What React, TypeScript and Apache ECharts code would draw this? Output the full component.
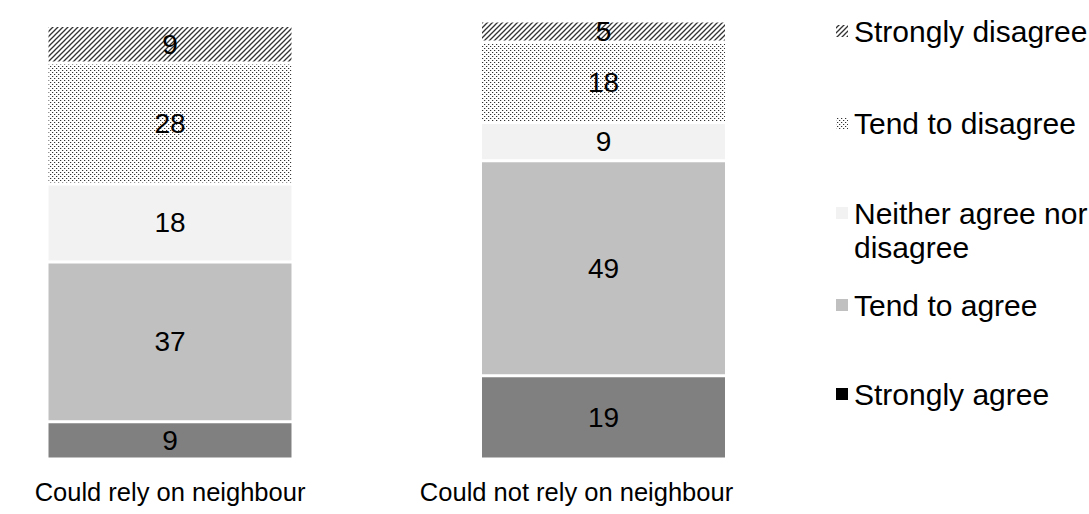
import React, { useEffect, useRef } from "react";
import * as echarts from "echarts";

const categories = ["Could rely on neighbour", "Could not rely on neighbour"];
const stronglyAgree = [8.5, 19];
const tendToAgree = [36.5, 49.1];
const neitherAgreeNorDisagree = [17.8, 8.7];
const tendToDisagree = [27.6, 18.4];
const stronglyDisagree = [8.6, 4.8];

const seriesNames = [
  "Strongly agree",
  "Tend to agree",
  "Neither agree nor disagree",
  "Tend to disagree",
  "Strongly disagree",
];
const legendLabels = [
  "Strongly agree",
  "Tend to agree",
  "\nNeither agree nor\ndisagree",
  "Tend to disagree",
  "Strongly disagree",
];

function makeHatch(): HTMLCanvasElement {
  const c = document.createElement("canvas");
  c.width = 5;
  c.height = 5;
  const ctx = c.getContext("2d")!;
  ctx.fillStyle = "#ffffff";
  ctx.fillRect(0, 0, 5, 5);
  ctx.strokeStyle = "#333333";
  ctx.lineWidth = 1.3;
  ctx.beginPath();
  ctx.moveTo(-1, 6);
  ctx.lineTo(6, -1);
  ctx.moveTo(-1, 1);
  ctx.lineTo(1, -1);
  ctx.moveTo(4, 6);
  ctx.lineTo(6, 4);
  ctx.stroke();
  return c;
}

function makeDots(): HTMLCanvasElement {
  const c = document.createElement("canvas");
  c.width = 4;
  c.height = 4;
  const ctx = c.getContext("2d")!;
  ctx.fillStyle = "#ffffff";
  ctx.fillRect(0, 0, 4, 4);
  ctx.fillStyle = "#333333";
  ctx.fillRect(0, 0, 1, 1);
  ctx.fillRect(2, 2, 1, 1);
  ctx.fillStyle = "#d0d0d0";
  ctx.fillRect(1, 0, 1, 1);
  ctx.fillRect(3, 2, 1, 1);
  return c;
}

export default function App() {
  const ref = useRef<HTMLDivElement>(null);

  useEffect(() => {
    if (!ref.current) return;
    const chart = echarts.init(ref.current, undefined, { renderer: "svg" });
    const hatch = { image: makeHatch(), repeat: "repeat" };
    const dots = { image: makeDots(), repeat: "repeat" };
    const colors: any[] = ["#808080", "#c0c0c0", "#f2f2f2", dots, hatch];
    const datasets = [
      stronglyAgree,
      tendToAgree,
      neitherAgreeNorDisagree,
      tendToDisagree,
      stronglyDisagree,
    ];
    const font = "'Liberation Sans', Arial, Helvetica, sans-serif";
    const legendTops = [377, 288, 162, 106, 14];

    const legends = seriesNames.map((name, i) => ({
      show: true,
      left: 834,
      top: legendTops[i],
      padding: 0,
      itemWidth: 14,
      itemHeight: 14,
      icon: "rect",
      selectedMode: false,
      formatter: () => legendLabels[i],
      textStyle: {
        fontFamily: font,
        fontSize: 30,
        color: "#000",
        lineHeight: 34,
      },
      data: [
        i === 0
          ? { name, itemStyle: { color: "#000000" } }
          : { name },
      ],
    }));

    chart.setOption({
      animation: false,
      backgroundColor: "#ffffff",
      legend: legends,
      grid: {
        left: 170,
        right: 1089 - 603.5,
        top: 21,
        bottom: 55,
        containLabel: false,
      },
      xAxis: {
        type: "category",
        data: [
          categories[0],
          { value: categories[1], textStyle: { padding: [0, 54, 0, 0] } },
        ],
        boundaryGap: false,
        axisLine: { show: false },
        axisTick: { show: false },
        splitLine: { show: false },
        axisLabel: {
          interval: 0,
          fontFamily: font,
          fontSize: 25.5,
          color: "#000",
          margin: 20,
        },
      },
      yAxis: {
        type: "value",
        min: 0,
        max: 100,
        show: false,
        splitLine: { show: false },
      },
      series: seriesNames.map((name, i) => ({
        name,
        type: "bar",
        stack: "total",
        barWidth: 246,
        clip: false,
        data: datasets[i],
        itemStyle: {
          color: colors[i],
          borderColor: "#ffffff",
          borderWidth: 1.5,
        },
        label: {
          show: true,
          position: "inside",
          fontFamily: font,
          fontSize: 28,
          color: "#000",
          formatter: (p: any) => String(Math.round(p.value)),
        },
      })),
    });

    return () => chart.dispose();
  }, []);

  return (
    <div
      ref={ref}
      style={{ position: "absolute", left: 0, top: 0, width: 1089, height: 514 }}
    />
  );
}
